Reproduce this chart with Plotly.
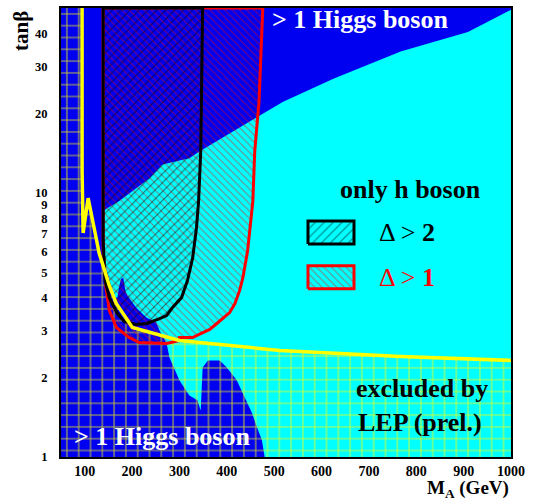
import numpy as np
import plotly.graph_objects as go

# ---------------- data (M_A in GeV, tan(beta)) ----------------
# boundary of the "only h boson" region (cyan)
only_h_ma = [1000, 909, 767, 625, 519, 459, 343, 321, 264, 237,
             173, 145, 141, 141, 147.5, 156, 162, 169, 173, 177,
             181.5, 186, 190, 209, 230, 251, 258, 273, 279, 300,
             321, 338, 345, 349, 360, 385, 400, 421, 438, 453,
             463.5, 474, 480, 1000]
only_h_tb = [49.2, 40.6, 34.2, 27.0, 22.1, 19.1, 14.35, 13.5, 12.8, 11.35,
             9.30, 8.68, 8.52, 5.15, 5.02, 4.45, 4.01, 4.01, 4.45, 4.73,
             4.77, 4.26, 4.08, 3.67, 3.37, 3.23, 3.01, 2.69, 2.38, 1.95,
             1.71, 1.64, 1.50, 2.18, 2.32, 2.32, 2.18, 1.95, 1.68, 1.47,
             1.30, 1.16, 1.0, 1.0]

# Delta > 1 contour (red)
d1_ma = [139, 139, 143, 145, 152, 167, 194, 215, 273, 300, 300, 328, 336, 349,
         364, 379, 391, 406, 417, 427, 434, 442, 444, 455, 459, 468, 476]
d1_tb = [50, 6.03, 5.07, 4.37, 3.58, 3.09, 2.83, 2.71, 2.69, 2.76, 2.83, 2.83, 2.88, 2.96,
         3.04, 3.20, 3.34, 3.52, 3.80, 4.26, 4.77, 5.67, 6.03, 9.30, 14.35, 22.1, 50]

# Delta > 2 contour (black)
d2_ma = [139, 139, 143, 152, 169, 184, 209, 232, 258, 273, 285, 304.5, 317, 328,
         336, 340.5, 345, 349]
d2_tb = [50, 6.57, 4.65, 4.01, 3.49, 3.25, 3.17, 3.20, 3.34, 3.43, 3.67, 4.01, 4.65, 5.67,
         7.36, 9.30, 14.35, 50]

# LEP (prel.) exclusion boundary (yellow)
lep_ma = [94.5, 94.5, 96.7, 107.3, 113.6, 120, 130.6, 141, 152, 167, 184, 200.6,
          300, 512, 767, 1000]
lep_tb = [50, 12.06, 7.04, 9.54, 8.38, 7.36, 5.9, 5.15, 4.45, 3.80, 3.40, 3.09,
          2.76, 2.53, 2.40, 2.32]

x_ticks = [100, 200, 300, 400, 500, 600, 700, 800, 900, 1000]
y_ticks = [1, 2, 3, 4, 5, 6, 7, 8, 9, 10, 20, 30, 40]
x_range = [50, 1000]
y_range = [1, 50]

# ---------------- styling ----------------
BLUE = '#0000f0'
CYAN = '#00ffff'
YELLOW = '#ffff00'
FONT = 'Liberation Serif'
W, H = 540, 503
L, R, T, B = 61, 29, 6, 46
PW, PH = W - L - R, H - T - B


def px(xp):
    return (xp - L) / PW


def py(yp):
    return (H - B - yp) / PH


RED_PAT = dict(shape='\\', fgcolor='#ff0000', size=5.2, solidity=0.2)
BLK_PAT = dict(shape='/', fgcolor='#000000', size=6.3, solidity=0.17)

fig = go.Figure()

# cyan region: only h boson
fig.add_trace(go.Scatter(x=only_h_ma, y=only_h_tb, fill='toself', fillcolor=CYAN,
                         mode='none', hoverinfo='skip', showlegend=False))

# LEP excluded region (yellow grid)
lep_x = [x_range[0]] + lep_ma + [x_range[1], x_range[0]]
lep_y = [y_range[1]] + lep_tb + [y_range[0], y_range[0]]
fig.add_trace(go.Scatter(x=lep_x, y=lep_y, fill='toself', mode='none',
                         fillcolor='rgba(0,0,0,0)',
                         fillpattern=dict(shape='+', fgcolor=YELLOW, fgopacity=0.75,
                                          size=11.8, solidity=0.17),
                         hoverinfo='skip', showlegend=False))

# Delta > 1 (red hatch)
fig.add_trace(go.Scatter(x=d1_ma + [d1_ma[0]], y=d1_tb + [d1_tb[0]], fill='toself',
                         mode='lines', line=dict(color='#ff0000', width=3),
                         fillcolor='rgba(0,0,0,0)', fillpattern=RED_PAT,
                         hoverinfo='skip', showlegend=False))

# Delta > 2 (black hatch)
fig.add_trace(go.Scatter(x=d2_ma + [d2_ma[0]], y=d2_tb + [d2_tb[0]], fill='toself',
                         mode='lines', line=dict(color='#000000', width=3),
                         fillcolor='rgba(0,0,0,0)', fillpattern=BLK_PAT,
                         hoverinfo='skip', showlegend=False))

# LEP boundary line
fig.add_trace(go.Scatter(x=lep_ma, y=lep_tb, mode='lines',
                         line=dict(color=YELLOW, width=3.5),
                         hoverinfo='skip', showlegend=False))

# legend swatches (own small axes)
box_x = [0, 1, 1, 0, 0]
box_y = [0, 0, 1, 1, 0]
fig.add_trace(go.Scatter(x=box_x, y=box_y, xaxis='x2', yaxis='y2', fill='toself',
                         mode='lines', line=dict(color='#000000', width=3),
                         fillcolor='rgba(0,0,0,0)', fillpattern=BLK_PAT,
                         hoverinfo='skip', showlegend=False))
fig.add_trace(go.Scatter(x=box_x, y=box_y, xaxis='x3', yaxis='y3', fill='toself',
                         mode='lines', line=dict(color='#ff0000', width=3),
                         fillcolor='rgba(0,0,0,0)', fillpattern=RED_PAT,
                         hoverinfo='skip', showlegend=False))

xtickfont = dict(family=FONT, size=14, color='black', weight='bold')
ytickfont = dict(family=FONT, size=12.5, color='black', weight='bold')
fig.update_layout(
    width=W, height=H,
    margin=dict(l=L, r=R, t=T, b=B),
    paper_bgcolor='white', plot_bgcolor='rgba(0,0,0,0)',
    showlegend=False,
    xaxis=dict(range=x_range, tickvals=x_ticks, ticktext=[str(v) for v in x_ticks],
               showgrid=False, zeroline=False, showline=True, mirror=True,
               linecolor='black', linewidth=2, ticks='', tickfont=xtickfont,
               ticklabelstandoff=0),
    yaxis=dict(type='log', range=[np.log10(y_range[0]), np.log10(y_range[1])],
               tickvals=y_ticks, ticktext=[str(v) for v in y_ticks],
               showgrid=False, zeroline=False, showline=True, mirror=True,
               linecolor='black', linewidth=2, ticks='', tickfont=ytickfont,
               ticklabelstandoff=9),
    xaxis2=dict(domain=[px(303.4), px(358.6)], range=[-0.1, 1.1], visible=False, anchor='y2'),
    yaxis2=dict(domain=[py(247.6), py(215.4)], range=[-0.2, 1.2], visible=False, anchor='x2'),
    xaxis3=dict(domain=[px(303.4), px(358.6)], range=[-0.1, 1.1], visible=False, anchor='y3'),
    yaxis3=dict(domain=[py(292.6), py(260.4)], range=[-0.2, 1.2], visible=False, anchor='x3'),
    shapes=[dict(type='rect', xref='x domain', yref='y domain', x0=0, x1=1, y0=0, y1=1,
                 fillcolor=BLUE, line=dict(width=0), layer='below')],
)

big_white = dict(family=FONT, size=26, color='white', weight='bold')
big_black = dict(family=FONT, size=26, color='black', weight='bold')
ann = [
    dict(text='&gt; 1 Higgs boson', x=px(270), y=py(18), xanchor='left', yanchor='middle', font=big_white),
    dict(text='&gt; 1 Higgs boson', x=px(72), y=py(436), xanchor='left', yanchor='middle', font=big_white),
    dict(text='only h boson', x=px(338), y=py(188), xanchor='left', yanchor='middle', font=big_black),
    dict(text='Δ &gt; <b>2</b>', x=px(377), y=py(232), xanchor='left', yanchor='middle',
         font=dict(family=FONT, size=26, color='black')),
    dict(text='Δ &gt; <b>1</b>', x=px(377), y=py(277), xanchor='left', yanchor='middle',
         font=dict(family=FONT, size=26, color='#ff0000')),
    dict(text='excluded by', x=px(422), y=py(388), xanchor='center', yanchor='middle', font=big_black),
    dict(text='LEP (prel.)', x=px(420), y=py(422), xanchor='center', yanchor='middle', font=big_black),
    dict(text='tanβ', x=px(21), y=py(29), xanchor='center', yanchor='middle', textangle=-90,
         font=dict(family=FONT, size=21, color='black', weight='bold')),
    dict(text='M<sub>A</sub> (GeV)', x=px(468), y=0, yshift=-B,
         xanchor='center', yanchor='bottom',
         font=dict(family=FONT, size=19, color='black', weight='bold')),
]
for a in ann:
    a.update(xref='paper', yref='paper', showarrow=False)
fig.update_layout(annotations=ann)

fig.write_html('out.html')
